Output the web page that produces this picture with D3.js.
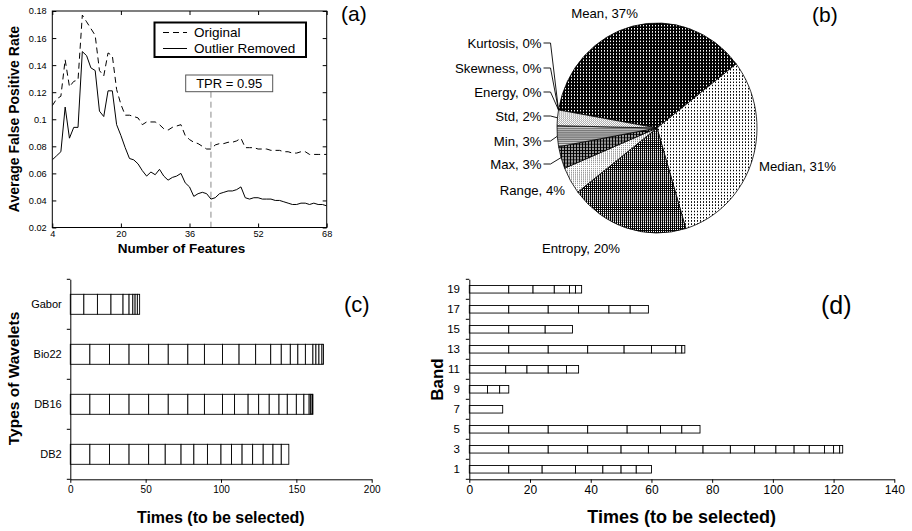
<!DOCTYPE html>
<html><head><meta charset="utf-8">
<script src="https://cdn.jsdelivr.net/npm/d3@7"></script>
<style>
body{margin:0;background:#fff}
svg{display:block}
text{font-family:"Liberation Sans",Arial,sans-serif;fill:#000}
</style></head><body>
<svg id="chart" width="912" height="531"></svg>
<script>
// ---------- DATA ----------
// (a) Average false positive rate vs number of features
const features = [4,5,6,7,8,9,10,11,12,13,14,15,16,17,18,19,20,21,22,23,24,25,26,27,28,29,30,31,32,33,34,35,36,37,38,39,40,41,42,43,44,45,46,47,48,49,50,51,52,53,54,55,56,57,58,59,60,61,62,63,64,65,66,67,68];
const original = [.110,.115,.117,.144,.124,.128,.129,.177,.172,.167,.162,.136,.132,.149,.147,.122,.111,.103,.103,.102,.101,.096,.098,.098,.098,.096,.093,.092,.094,.095,.096,.088,.085,.083,.082,.080,.078,.078,.081,.082,.082,.083,.083,.084,.086,.079,.079,.079,.078,.078,.078,.077,.077,.077,.076,.076,.075,.075,.076,.076,.074,.074,.074,.074,.074];
const outlierRemoved = [.070,.073,.076,.109,.086,.094,.094,.150,.147,.138,.136,.106,.102,.121,.121,.096,.088,.079,.071,.070,.067,.062,.058,.061,.059,.063,.058,.055,.057,.058,.060,.053,.050,.043,.045,.046,.045,.041,.042,.045,.046,.047,.047,.048,.050,.042,.041,.042,.042,.041,.041,.041,.040,.040,.039,.038,.037,.037,.038,.038,.037,.038,.037,.037,.036];
const xTicksA = [4,20,36,52,68];
const yTicksA = [0.02,0.04,0.06,0.08,0.1,0.12,0.14,0.16,0.18];
const tprFeature = 41;
const seriesNames = ["Original","Outlier Removed"];

// (b) pie of feature types
const pieNames = ["Mean","Median","Entropy","Range","Max","Min","Std","Energy","Skewness","Kurtosis"];
const pieValues = [36.8,30.8,19.2,4.2,3.4,3.2,2.4,0,0,0];
const pieLabels = ["Mean, 37%","Median, 31%","Entropy, 20%","Range, 4%","Max, 3%","Min, 3%","Std, 2%","Energy, 0%","Skewness, 0%","Kurtosis, 0%"];

// (c) wavelet types: cumulative segment ends
const wavelets = ["Gabor","Bio22","DB16","DB2"];
const gaborCuts = [9,18,27,35,39,41.5,43,44.5,46];
const bio22Cuts = [13,26,39,52,65,78,89,101,112,123,133,140,146,151,156,161,163,165,167,168];
const db16Cuts = [13,26,39,52,65,78,89,101,109,118,125,132,138.5,144,150,155,158.5,159.5,160.5,161];
const db2Cuts = [13,26,39,52,63,73.5,82,91,100,107,114,121,128,134.5,140,145];
const xTicksC = [0,50,100,150,200];

// (d) bands: cumulative segment ends
const bands = ["19","17","15","13","11","9","7","5","3","1"];
const band19 = [13,21,28,33,35,37];
const band17 = [13,26,36,46,53,59];
const band15 = [13,25,34];
const band13 = [13,26,39,51,60,68,70,71];
const band11 = [12,19,26,32,36];
const band9 = [6,10,13];
const band7 = [11];
const band5 = [13,26,39,52,63,70,76];
const band3 = [13,26,39,50,59,68,77,86,94,101,107,112,117,120,122,123];
const band1 = [13,24,35,44,50,55,60];
const xTicksD = [0,20,40,60,80,100,120,140];

// ---------- DRAW ----------
const svg = d3.select("#chart");
const FONT = '"Liberation Sans", Arial, sans-serif';
const SERIF = '"Liberation Serif", "DejaVu Serif", serif';
const defs = svg.append("defs");
function pat(id, size, bg, cells){
  const p = defs.append("pattern").attr("id",id).attr("width",size).attr("height",size)
    .attr("patternUnits","userSpaceOnUse");
  p.append("rect").attr("width",size).attr("height",size).attr("fill",bg).attr("shape-rendering","crispEdges");
  cells.forEach(c=>p.append("rect").attr("x",c[0]).attr("y",c[1]).attr("width",c[2]).attr("height",c[3]).attr("fill",c[4]).attr("shape-rendering","crispEdges"));
}
pat("pMean",3,"#000",[[1,1,1,1,"#fff"]]);
pat("pMedian",3,"#fff",[[1,1,1,1,"#000"]]);
pat("pEntropy",2,"#000",[[0,0,1,1,"#fff"]]);
pat("pRange",2,"#fff",[[0,0,1,1,"#999"]]);
pat("pMax",3,"#9a9a9a",[[0,0,3,1,"#000"],[0,0,1,3,"#000"]]);
pat("pMin",2,"#dcdcdc",[[0,0,2,1,"#7a7a7a"]]);
pat("pStd",2,"#fff",[[0,0,1,1,"#aaa"],[1,1,1,1,"#aaa"]]);
const pieFills = ["url(#pMean)","url(#pMedian)","url(#pEntropy)","url(#pRange)","url(#pMax)","url(#pMin)","url(#pStd)","#fff","#fff","#fff"];

function styleAxis(g, size){
  g.attr("font-family",FONT).attr("font-size",size).attr("color","#000");
  g.selectAll("text").attr("fill","#000");
}

// ===== Panel (a) =====
const xA = d3.scaleLinear().domain([4,68]).range([52.3,326.7]);
const yA = d3.scaleLinear().domain([0.02,0.18]).range([227.5,11]);
const gA = svg.append("g");
gA.append("clipPath").attr("id","clipA").append("rect")
  .attr("x",xA.range()[0]).attr("y",yA.range()[1]).attr("width",xA.range()[1]-xA.range()[0]).attr("height",yA.range()[0]-yA.range()[1]);
const lineA = d3.line().x((d,i)=>xA(features[i])).y(d=>yA(d));
gA.append("line").attr("x1",xA(tprFeature)).attr("x2",xA(tprFeature))
  .attr("y1",91.7).attr("y2",yA.range()[0])
  .attr("stroke","#8a8a8a").attr("stroke-width",1).attr("stroke-dasharray","6,4");
gA.append("path").datum(original).attr("d",lineA).attr("fill","none")
  .attr("stroke","#000").attr("stroke-width",1).attr("stroke-dasharray","6,4").attr("clip-path","url(#clipA)");
gA.append("path").datum(outlierRemoved).attr("d",lineA).attr("fill","none")
  .attr("stroke","#000").attr("stroke-width",1).attr("clip-path","url(#clipA)");
const axB = gA.append("g").attr("transform",`translate(0,${yA.range()[0]})`)
  .call(d3.axisBottom(xA).tickValues(xTicksA).tickSize(-4).tickPadding(3.2));
const axT = gA.append("g").attr("transform",`translate(0,${yA.range()[1]})`)
  .call(d3.axisTop(xA).tickValues(xTicksA).tickSize(-4).tickFormat(""));
const axL = gA.append("g").attr("transform",`translate(${xA.range()[0]},0)`)
  .call(d3.axisLeft(yA).tickValues(yTicksA).tickSize(-4).tickPadding(5.6).tickFormat(d=>String(d)));
const axR = gA.append("g").attr("transform",`translate(${xA.range()[1]},0)`)
  .call(d3.axisRight(yA).tickValues(yTicksA).tickSize(-4).tickFormat(""));
[axB,axT,axL,axR].forEach(g=>{g.select(".domain").remove(); styleAxis(g,9.2);});
gA.append("rect").attr("x",xA.range()[0]).attr("y",yA.range()[1])
  .attr("width",xA.range()[1]-xA.range()[0]).attr("height",yA.range()[0]-yA.range()[1])
  .attr("fill","none").attr("stroke","#000").attr("stroke-width",1);
gA.append("text").attr("x",181.5).attr("y",252.5).attr("text-anchor","middle")
  .attr("font-weight","bold").attr("font-size",13.5).text("Number of Features");
gA.append("text").attr("transform","translate(18.8,119) rotate(-90)").attr("text-anchor","middle")
  .attr("font-weight","bold").attr("font-size",14).text("Average False Positive Rate");
const leg = gA.append("g");
leg.append("rect").attr("x",154.5).attr("y",22.5).attr("width",151.5).attr("height",34.5)
  .attr("fill","#fff").attr("stroke","#000").attr("stroke-width",2);
leg.append("line").attr("x1",163).attr("x2",187).attr("y1",32.5).attr("y2",32.5)
  .attr("stroke","#000").attr("stroke-dasharray","6,4");
leg.append("line").attr("x1",163).attr("x2",187).attr("y1",48.5).attr("y2",48.5).attr("stroke","#000");
leg.append("text").attr("x",194).attr("y",36.5).attr("font-size",13.5).text(seriesNames[0]);
leg.append("text").attr("x",194).attr("y",52.7).attr("font-size",13.5).text(seriesNames[1]);
gA.append("rect").attr("x",185.7).attr("y",75).attr("width",87).attr("height",16.7)
  .attr("fill","#fff").attr("stroke","#555").attr("stroke-width",1);
gA.append("text").attr("x",229.2).attr("y",87.6).attr("text-anchor","middle").attr("font-size",13).text("TPR = 0.95");

// ===== Panel (b) pie =====
const cx = 657, cy = 128, R = 100, ky = 1.05;
const pie = d3.pie().sort(null).value(d=>d)
  .startAngle(-80.1*Math.PI/180).endAngle(-80.1*Math.PI/180 + 2*Math.PI);
const arcs = pie(pieValues);
const arc = d3.arc().innerRadius(0).outerRadius(R);
const gP = svg.append("g").attr("transform",`translate(${cx},${cy}) scale(1,${ky})`);
gP.selectAll("path").data(arcs.filter(a=>a.value>0)).join("path")
  .attr("d",arc).attr("fill",d=>pieFills[d.index]).attr("stroke","#000").attr("stroke-width",0.8)
  .attr("vector-effect","non-scaling-stroke");
const labelLayout = {
  Mean:{x:604.5,y:17.5,a:"middle"}, Median:{x:759,y:170.5,a:"start"}, Entropy:{x:581,y:253,a:"middle"},
  Range:{x:565,y:195,a:"end"}, Max:{x:541.5,y:168.5,a:"end"}, Min:{x:541.5,y:145.5,a:"end"},
  Std:{x:541.5,y:120.5,a:"end"}, Energy:{x:541.5,y:96.5,a:"end"}, Skewness:{x:541.5,y:72.5,a:"end"},
  Kurtosis:{x:541.5,y:47.5,a:"end"}
};
const leaderSet = ["Max","Min","Std","Energy","Skewness","Kurtosis"];
arcs.forEach((a,i)=>{
  const name = pieNames[i], L = labelLayout[name];
  svg.append("text").attr("x",L.x).attr("y",L.y).attr("text-anchor",L.a).attr("font-size",13.2).text(pieLabels[i]);
  if(leaderSet.includes(name)){
    const mid = (a.startAngle+a.endAngle)/2;
    const ex = cx + R*Math.sin(mid), ey = cy - R*Math.cos(mid)*ky;
    const ly = L.y - 4.5;
    svg.append("polyline")
      .attr("points",`${L.x+2},${ly} ${L.x+9},${ly} ${ex},${ey}`)
      .attr("fill","none").attr("stroke","#000").attr("stroke-width",0.9);
  }
});

function stackedBars(g, cats, cutsList, xs, ys){
  cats.forEach((c,i)=>{
    const cuts = cutsList[i];
    cuts.forEach((v,j)=>{
      const prev = j===0 ? 0 : cuts[j-1];
      g.append("rect").attr("x",xs(prev)).attr("y",ys(c)).attr("width",xs(v)-xs(prev)).attr("height",ys.bandwidth())
        .attr("fill","#fff").attr("stroke","#000").attr("stroke-width",0.9);
    });
  });
}
function bandAxis(g, ys, x0, size, pad){
  const ax = g.append("g").attr("transform",`translate(${x0},0)`)
    .call(d3.axisLeft(ys).tickSize(0).tickPadding(pad));
  styleAxis(ax,size);
  const gap = (ys.step()-ys.bandwidth())/2;
  const bnds = ys.domain().map(c=>ys(c)-gap).concat([ys.range()[1]]);
  g.selectAll(null).data(bnds).join("line").attr("x1",x0-3.5).attr("x2",x0).attr("y1",d=>d).attr("y2",d=>d)
    .attr("stroke","#000").attr("stroke-width",1);
}

// ===== Panel (c) =====
const xC = d3.scaleLinear().domain([0,200]).range([70.3,371.7]);
const yC = d3.scaleBand().domain(wavelets).range([279.3,479.3]).paddingInner(0.6).paddingOuter(0.3);
const gC = svg.append("g");
stackedBars(gC, wavelets, [gaborCuts,bio22Cuts,db16Cuts,db2Cuts], xC, yC);
bandAxis(gC, yC, xC.range()[0], 11, 8.6);
const axC = gC.append("g").attr("transform",`translate(0,${yC.range()[1]})`)
  .call(d3.axisBottom(xC).tickValues(xTicksC).tickSizeInner(3.5).tickSizeOuter(0).tickPadding(3));
styleAxis(axC,10);
gC.append("text").attr("x",220.8).attr("y",523).attr("text-anchor","middle").attr("font-weight","bold")
  .attr("font-size",16).text("Times (to be selected)");
gC.append("text").attr("transform","translate(18.5,378.5) rotate(-90)").attr("text-anchor","middle")
  .attr("font-weight","bold").attr("font-size",15.5).text("Types of Wavelets");

// ===== Panel (d) =====
const xD = d3.scaleLinear().domain([0,140]).range([469.3,894.3]);
const yD = d3.scaleBand().domain(bands).range([279.3,479.3]).paddingInner(0.625).paddingOuter(0.3125);
const gD = svg.append("g");
stackedBars(gD, bands, [band19,band17,band15,band13,band11,band9,band7,band5,band3,band1], xD, yD);
bandAxis(gD, yD, xD.range()[0], 11.5, 9.3);
const axD = gD.append("g").attr("transform",`translate(0,${yD.range()[1]})`)
  .call(d3.axisBottom(xD).tickValues(xTicksD).tickSizeInner(3.5).tickSizeOuter(0).tickPadding(3));
styleAxis(axD,12);
gD.append("text").attr("x",681.7).attr("y",523).attr("text-anchor","middle").attr("font-weight","bold")
  .attr("font-size",18).text("Times (to be selected)");
gD.append("text").attr("transform","translate(443.3,379.5) rotate(-90)").attr("text-anchor","middle")
  .attr("font-weight","bold").attr("font-size",17).text("Band");

const letters = [["(a)",341,20.5,21],["(b)",812,21.5,21],["(c)",344,312,22],["(d)",821,314,25]];
letters.forEach(l=>svg.append("text").attr("x",l[1]).attr("y",l[2]).attr("font-family",SERIF)
  .attr("font-size",l[3]).text(l[0]));
</script></body></html>
